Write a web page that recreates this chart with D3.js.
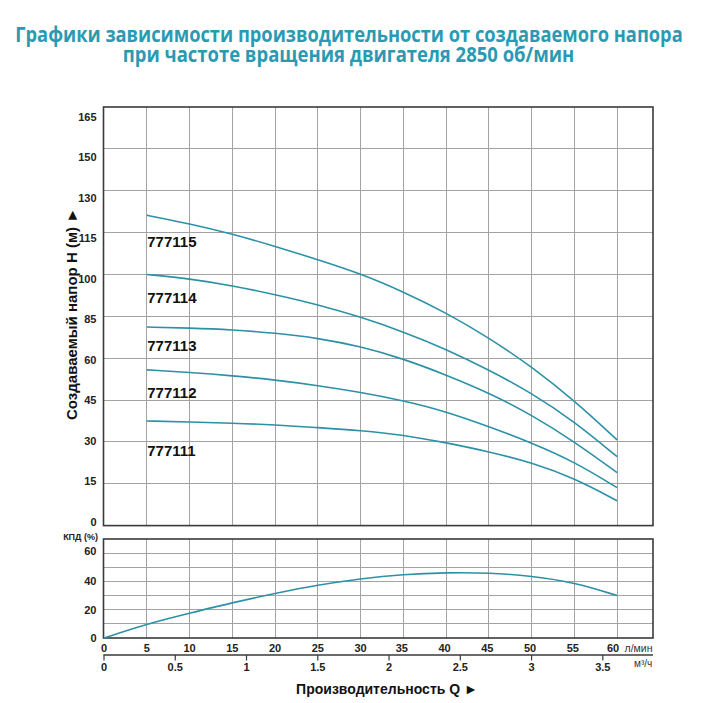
<!DOCTYPE html>
<html>
<head>
<meta charset="utf-8">
<script src="https://cdn.jsdelivr.net/npm/d3@7"></script>
<style>
  html, body { margin: 0; padding: 0; background: #fff; }
  svg { display: block; }
</style>
</head>
<body>
<svg id="chart" width="706" height="703"></svg>
<script>
// ---- DATA ----
const titleLines = [
  "Графики зависимости производительности от создаваемого напора",
  "при частоте вращения двигателя 2850 об/мин"
];
const flowQ = [5, 10, 15, 20, 25, 30, 35, 40, 45, 50, 55, 60]; // л/мин
const seriesNames = ["777115", "777114", "777113", "777112", "777111"];
const head777115 = [121.2, 118.2, 114.5, 110.1, 105.3, 100.3, 93.8, 86.3, 72.2, 57.0, 44.8, 30.7];
const head777114 = [100.0, 98.5, 96.0, 92.8, 89.2, 84.6, 75.8, 65.4, 55.8, 47.5, 37.3, 24.7];
const head777113 = [78.6, 78.0, 77.0, 75.0, 72.0, 67.0, 59.8, 54.0, 47.6, 39.7, 30.1, 19.0];
const head777112 = [55.8, 54.9, 53.7, 52.2, 50.2, 47.8, 44.8, 40.9, 35.5, 29.7, 22.9, 13.6];
const head777111 = [37.5, 37.1, 36.7, 36.1, 35.1, 34.1, 32.5, 29.7, 26.5, 22.6, 17.0, 8.9];
const headSeries = [head777115, head777114, head777113, head777112, head777111];

const effQ = [0, 5, 10, 15, 20, 25, 30, 35, 40, 45, 50, 55, 60];
const effValues = [0, 10, 17.5, 25, 31.5, 37.5, 42, 45, 46.3, 46.2, 43.8, 39.3, 30];

const headTicks = [0, 15, 30, 45, 60, 85, 100, 115, 130, 150, 165];
const effGridTicks = [0, 10, 20, 30, 40, 50, 60, 70];
const effLabelTicks = [0, 20, 40, 60];
const flowTicks = [0, 5, 10, 15, 20, 25, 30, 35, 40, 45, 50, 55, 60];
const flowGridTicks = [5, 10, 15, 20, 25, 30, 35, 40, 45, 50, 55, 60];
const m3hTicks = [0, 0.5, 1, 1.5, 2, 2.5, 3, 3.5];
const m3hLabels = ["0", "0.5", "1", "1.5", "2", "2.5", "3", "3.5"];

// ---- LAYOUT ----
const svg = d3.select("#chart");
const L = 103.5, R = 653;
const hTop = 107, hBot = 525.6;
const eTop = 539, eBot = 638;
const teal = "#2c91a6";
const titleColor = "#2a9ab3";
const gridColor = "#a3a3a3";
const frameColor = "#3a3a3a";
const fontAxis = "'Liberation Sans', Arial, sans-serif";

const x = d3.scaleLinear().domain([0, 64.2]).range([L + 0.5, R]);
const step = (hBot - hTop) / (headTicks.length - 1);
const y = d3.scaleLinear().domain(headTicks).range(headTicks.map((d, i) => hBot - i * step));
const yLabel = d3.scaleLinear().domain(headTicks).range(headTicks.map((d, i) => 522 - i * (522 - 117) / (headTicks.length - 1)));
const ye = d3.scaleLinear().domain([0, 70]).range([eBot, eTop]);

// Title (scaled horizontally to the reference width)
const titleWidths = [668, 452];
const titleCx = [349, 348.5];
const titleY = [41.5, 61.5];
svg.selectAll("text.title").data(titleLines).join("text")
  .attr("class", "title")
  .attr("x", 0).attr("y", 0)
  .attr("text-anchor", "middle")
  .attr("font-family", "'Open Sans', 'Noto Sans', sans-serif")
  .attr("font-weight", 700)
  .attr("font-size", 20.5)
  .attr("fill", titleColor)
  .text(d => d)
  .each(function(d, i) {
    const w = this.getComputedTextLength();
    const s = titleWidths[i] / w;
    d3.select(this).attr("transform", `translate(${titleCx[i]},${titleY[i]}) scale(${s},1)`);
  });

// ---- GRID ----
const grid = svg.append("g").attr("stroke", gridColor).attr("stroke-width", 1).attr("shape-rendering", "crispEdges");
grid.selectAll("line.vh").data(flowGridTicks).join("line")
  .attr("class", "vh")
  .attr("x1", d => x(d)).attr("x2", d => x(d)).attr("y1", hTop).attr("y2", hBot);
grid.selectAll("line.ve").data(flowGridTicks).join("line")
  .attr("class", "ve")
  .attr("x1", d => x(d)).attr("x2", d => x(d)).attr("y1", eTop).attr("y2", eBot);
grid.selectAll("line.hh").data(headTicks.slice(1, -1)).join("line")
  .attr("class", "hh")
  .attr("x1", L).attr("x2", R).attr("y1", d => y(d)).attr("y2", d => y(d));
grid.selectAll("line.he").data(effGridTicks.slice(1, -1)).join("line")
  .attr("class", "he")
  .attr("x1", L).attr("x2", R).attr("y1", d => ye(d)).attr("y2", d => ye(d));

// Frames
svg.append("rect").attr("x", L).attr("y", hTop).attr("width", R - L).attr("height", hBot - hTop)
  .attr("fill", "none").attr("stroke", frameColor).attr("stroke-width", 1.6);
svg.append("rect").attr("x", L).attr("y", eTop).attr("width", R - L).attr("height", eBot - eTop)
  .attr("fill", "none").attr("stroke", frameColor).attr("stroke-width", 1.6);

// ---- HEAD CURVES ----
const line = d3.line().curve(d3.curveBasis).x(d => x(d[0])).y(d => y(d[1]));
svg.append("g").selectAll("path").data(headSeries).join("path")
  .attr("d", s => line(s.map((v, i) => [flowQ[i], v])))
  .attr("fill", "none").attr("stroke", teal).attr("stroke-width", 1.6);

// Series labels
const labelDy = [26, 22.7, 18.4, 22.3, 29.7];
svg.append("g").selectAll("text").data(seriesNames).join("text")
  .attr("x", x(flowQ[0]) + 0.5)
  .attr("y", (d, i) => y(headSeries[i][0]) + labelDy[i] + 5.5)
  .attr("font-family", fontAxis).attr("font-weight", "bold").attr("font-size", 15)
  .attr("fill", "#111")
  .text(d => d);

// ---- EFFICIENCY CURVE ----
const eline = d3.line().curve(d3.curveBasis).x(d => x(d[0])).y(d => ye(d[1]));
svg.append("path").attr("d", eline(effValues.map((v, i) => [effQ[i], v])))
  .attr("fill", "none").attr("stroke", teal).attr("stroke-width", 1.6);

// ---- AXIS LABELS ----
svg.append("g").selectAll("text").data(headTicks).join("text")
  .attr("x", 96.5).attr("y", d => yLabel(d))
  .attr("dy", "0.36em")
  .attr("text-anchor", "end")
  .attr("font-family", fontAxis).attr("font-weight", "bold").attr("font-size", 11)
  .attr("fill", "#222")
  .text(d => d);

svg.append("g").selectAll("text").data(effLabelTicks).join("text")
  .attr("x", 96.5).attr("y", d => ye(d) - (d === 60 ? 2.5 : 0))
  .attr("dy", "0.36em")
  .attr("text-anchor", "end")
  .attr("font-family", fontAxis).attr("font-weight", "bold").attr("font-size", 11)
  .attr("fill", "#222")
  .text(d => d);

svg.append("text").attr("x", 98).attr("y", 539.5).attr("text-anchor", "end")
  .attr("font-family", fontAxis).attr("font-weight", "bold").attr("font-size", 9)
  .attr("fill", "#222").text("КПД (%)");

// flow tick labels (л/мин)
svg.append("g").selectAll("text").data(flowTicks).join("text")
  .attr("x", d => x(d) - (d === 60 ? 4 : (d >= 35 ? 1.5 : 0))).attr("y", 647.8).attr("dy", "0.36em")
  .attr("text-anchor", "middle")
  .attr("font-family", fontAxis).attr("font-weight", "bold").attr("font-size", 11)
  .attr("fill", "#222")
  .text(d => d);
svg.append("text").attr("x", 624.5).attr("y", 647.8).attr("dy", "0.36em")
  .attr("font-family", fontAxis).attr("font-size", 10.5).attr("fill", "#333").text("л/мин");

// m3/h axis
const m3 = v => x(v * 1000 / 60);
svg.append("line").attr("x1", L).attr("x2", R).attr("y1", 655).attr("y2", 655)
  .attr("stroke", frameColor).attr("stroke-width", 1.4);
svg.append("g").selectAll("line").data(m3hTicks).join("line")
  .attr("x1", d => m3(d)).attr("x2", d => m3(d)).attr("y1", 655).attr("y2", 660.5)
  .attr("stroke", frameColor).attr("stroke-width", 1.2);
svg.append("g").selectAll("text").data(m3hTicks).join("text")
  .attr("x", d => m3(d)).attr("y", 667).attr("dy", "0.36em")
  .attr("text-anchor", "middle")
  .attr("font-family", fontAxis).attr("font-weight", "bold").attr("font-size", 11)
  .attr("fill", "#222")
  .text((d, i) => m3hLabels[i]);
svg.append("text").attr("x", 634).attr("y", 663).attr("dy", "0.36em")
  .attr("font-family", fontAxis).attr("font-size", 10).attr("fill", "#333")
  .text("м³/ч");

// axis titles
svg.append("text").attr("x", 387).attr("y", 693.5).attr("text-anchor", "middle")
  .attr("font-family", fontAxis).attr("font-weight", "bold").attr("font-size", 14)
  .attr("fill", "#111").text("Производительность Q ►");

svg.append("text")
  .attr("transform", "translate(76.5,314) rotate(-90)")
  .attr("text-anchor", "middle")
  .attr("font-family", fontAxis).attr("font-weight", "bold").attr("font-size", 15)
  .attr("fill", "#111").text("Создаваемый напор H (м) ►");
</script>
</body>
</html>
